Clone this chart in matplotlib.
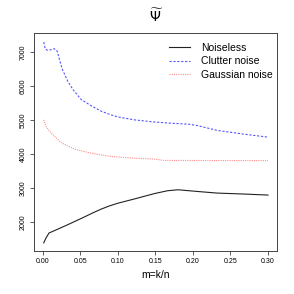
import matplotlib
matplotlib.use("Agg")
import matplotlib.pyplot as plt

plt.rcParams['font.family'] = ['Liberation Sans', 'DejaVu Sans']

# values
m_clutter = [0.001, 0.003, 0.006, 0.011, 0.015, 0.019, 0.022, 0.026, 0.033, 0.040,
             0.051, 0.064, 0.077, 0.090, 0.100, 0.122, 0.149, 0.170, 0.195, 0.206,
             0.232, 0.268, 0.300]
clutter = [7300, 7097, 7059, 7076, 7106, 7029, 6782, 6488, 6147, 5900,
           5606, 5429, 5270, 5160, 5095, 5009, 4945, 4912, 4880, 4841,
           4700, 4588, 4500]

m_gauss = [0.001, 0.004, 0.011, 0.024, 0.042, 0.064, 0.091, 0.122, 0.149, 0.161,
           0.200, 0.250, 0.300]
gauss = [5009, 4812, 4618, 4341, 4147, 4029, 3929, 3882, 3853, 3815,
         3812, 3810, 3810]

m_noiseless = [0.001, 0.004, 0.008, 0.015, 0.033, 0.055, 0.066, 0.077, 0.088, 0.100,
               0.122, 0.149, 0.166, 0.180, 0.206, 0.232, 0.268, 0.300]
noiseless = [1385, 1529, 1676, 1744, 1921, 2147, 2265, 2375, 2470, 2555,
             2680, 2840, 2921, 2950, 2900, 2853, 2824, 2794]

xticks = [0.00, 0.05, 0.10, 0.15, 0.20, 0.25, 0.30]
yticks = [2000, 3000, 4000, 5000, 6000, 7000]

fig = plt.figure(figsize=(2.94, 2.94), dpi=100)
ax = fig.add_axes([0.1156, 0.1463, 0.8265, 0.7415])

ax.plot(m_noiseless, noiseless, color="#222222", lw=0.8, label="Noiseless")
ax.plot(m_clutter, clutter, color="#5555ff", lw=0.8, ls=(0, (2, 1.5)), label="Clutter noise")
ax.plot(m_gauss, gauss, color="#ff8c8c", lw=0.8, ls=(0, (1, 1)), label="Gaussian noise")

ax.set_xlim(-0.012, 0.312)
ax.set_ylim(1147, 7568)
ax.set_xticks(xticks)
ax.set_xticklabels(["%.2f" % t for t in xticks], fontsize=5)
ax.set_yticks(yticks)
ax.set_yticklabels([str(t) for t in yticks], fontsize=5, rotation=90, va="center")
ax.tick_params(length=3, width=0.6, color="#444444", pad=2)
for s in ax.spines.values():
    s.set_linewidth(0.7)
    s.set_color("#444444")

ax.set_xlabel("m=k/n", fontsize=7.5, labelpad=4)
fig.text(0.53, 0.945, r"$\widetilde{\Psi}$", fontsize=10, ha="center", va="center",
         family="DejaVu Serif")

ax.legend(loc="upper right", bbox_to_anchor=(1.0, 0.975), frameon=False, fontsize=7.5,
          handlelength=2.0, labelspacing=0.35, borderaxespad=0.0, handletextpad=1.1)

fig.savefig("out.png", dpi=100)
